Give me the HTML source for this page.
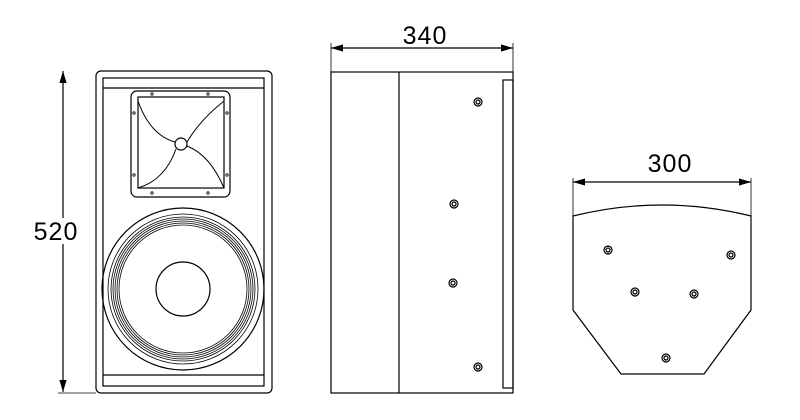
<!DOCTYPE html>
<html><head><style>body{margin:0;background:#fff}svg{display:block}</style></head><body>
<svg width="800" height="420" viewBox="0 0 800 420" xmlns="http://www.w3.org/2000/svg">
<defs><marker id="a" markerWidth="10" markerHeight="6" refX="10" refY="3" orient="auto-start-reverse"><path d="M0,0 L10,3 L0,6 Z" fill="#000"/></marker></defs>
<g fill="none" stroke="#000" stroke-width="1.2">
<line x1="63" y1="71" x2="63" y2="392" marker-start="url(#a)" marker-end="url(#a)"/>
<line x1="58" y1="393" x2="96" y2="393" stroke-width="0.8"/>
<rect x="96" y="71" width="176" height="322" rx="5"/>
<rect x="103" y="78" width="161" height="308"/>
<line x1="103" y1="88" x2="264" y2="88"/>
<line x1="103" y1="375" x2="264" y2="375"/>
<rect x="131" y="91" width="99" height="106" rx="6"/>
<rect x="138" y="97" width="86" height="91"/>
<circle cx="181" cy="144" r="6"/>
<path d="M138,101 Q150,135 175,142 M187,142 Q200,120 224,101 M176,149 Q165,180 138,188 M187,146 Q210,155 224,188" stroke-width="1"/>
<g stroke-width="0.8"><circle cx="152" cy="94" r="1.2"/><circle cx="208" cy="94" r="1.2"/><circle cx="152" cy="193" r="1.2"/><circle cx="208" cy="193" r="1.2"/><circle cx="134" cy="113" r="1.2"/><circle cx="227" cy="113" r="1.2"/><circle cx="134" cy="175" r="1.2"/><circle cx="227" cy="175" r="1.2"/></g>
<circle cx="183" cy="289" r="81"/>
<circle cx="183" cy="289" r="75" stroke-width="0.8"/>
<circle cx="183" cy="289" r="72" stroke-width="0.8"/>
<circle cx="183" cy="289" r="70" stroke-width="0.8"/>
<circle cx="183" cy="289" r="68" stroke-width="0.8"/>
<circle cx="183" cy="289" r="66" stroke-width="0.8"/>
<circle cx="183" cy="289" r="64" stroke-width="0.8"/>
<circle cx="183" cy="289" r="27"/>
<line x1="331" y1="48" x2="513" y2="48" marker-start="url(#a)" marker-end="url(#a)"/>
<line x1="331" y1="43" x2="331" y2="72" stroke-width="0.8"/>
<line x1="513" y1="43" x2="513" y2="72" stroke-width="0.8"/>
<rect x="331" y="72" width="182" height="321"/>
<line x1="399" y1="72" x2="399" y2="393"/>
<rect x="503" y="80" width="10" height="308"/>
<g><circle cx="478" cy="102" r="4"/><circle cx="478" cy="102" r="2"/><circle cx="454" cy="204" r="4"/><circle cx="454" cy="204" r="2"/><circle cx="453" cy="283" r="4"/><circle cx="453" cy="283" r="2"/><circle cx="478" cy="367" r="4"/><circle cx="478" cy="367" r="2"/></g>
<line x1="573" y1="182" x2="751" y2="182" marker-start="url(#a)" marker-end="url(#a)"/>
<line x1="573" y1="178" x2="573" y2="216" stroke-width="0.8"/>
<line x1="751" y1="178" x2="751" y2="216" stroke-width="0.8"/>
<path d="M573,216 Q662,194 751,216 L751,310 L704,374 L621,374 L573,310 Z"/>
<g><circle cx="608" cy="250" r="4"/><circle cx="608" cy="250" r="2"/><circle cx="731" cy="255" r="4"/><circle cx="731" cy="255" r="2"/><circle cx="635" cy="292" r="4"/><circle cx="635" cy="292" r="2"/><circle cx="694" cy="294" r="4"/><circle cx="694" cy="294" r="2"/><circle cx="666" cy="358" r="4"/><circle cx="666" cy="358" r="2"/></g>
</g>
<rect x="28" y="218" width="54" height="26" fill="#fff"/>
<g font-family="Liberation Sans, sans-serif" font-size="25" fill="#000" text-anchor="middle" letter-spacing="1">
<text x="56" y="240">520</text>
<text x="425" y="44">340</text>
<text x="670" y="172">300</text>
</g>
</svg>
</body></html>
